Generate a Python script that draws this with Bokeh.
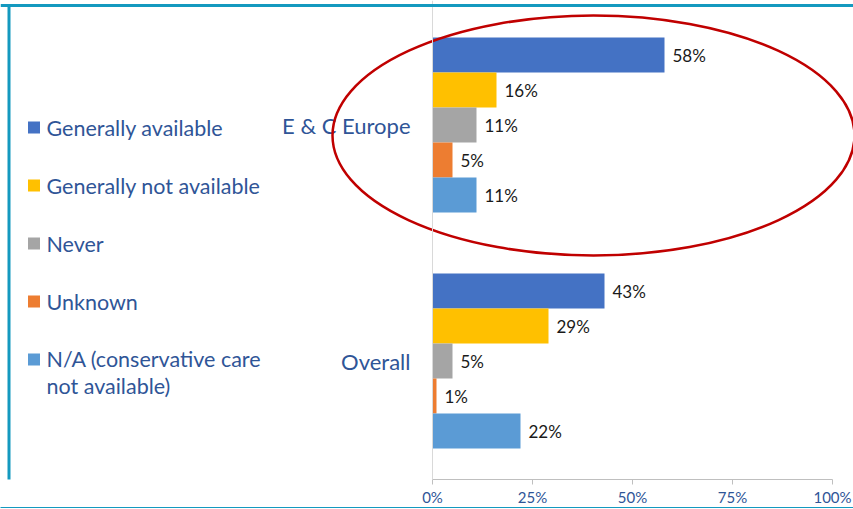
from bokeh.plotting import figure
from bokeh.models import (Range1d, FixedTicker, LinearAxis, Span, ColumnDataSource,
                          BoxAnnotation)
from bokeh.core.properties import value
from bokeh.embed import file_html
from bokeh.resources import INLINE

# ---------------- data ----------------
categories = ["E & C Europe", "Overall"]
series = [
    "Generally available",
    "Generally not available",
    "Never",
    "Unknown",
    "N/A (conservative care\nnot available)",
]
values_ec = [58, 16, 11, 5, 11]
values_overall = [43, 29, 5, 1, 22]
colors = ["#4472C4", "#FFC000", "#A5A5A5", "#ED7D31", "#5B9BD5"]
tick_values = [0, 25, 50, 75, 100]
tick_labels = ["0%", "25%", "50%", "75%", "100%"]

# ---------------- layout helpers (pixel geometry of the page) ----------------
PX_PER_PCT = 4.0          # horizontal scale
ZERO_X = 432              # page x of 0%
CAT_PX = 236              # vertical distance between categories
OVERALL_Y = 360.5         # page y of the lower category
FRAME_W, FRAME_H = 853, 479
PAGE_TOP = 0


def X(px):
    return (px - ZERO_X) / PX_PER_PCT


def Y(py):
    return (OVERALL_Y - py) / CAT_PX


BLUE_TXT = "#2F5597"
FONT = "Lato"

p = figure(
    frame_width=FRAME_W,
    frame_height=FRAME_H,
    x_range=Range1d(X(0), X(FRAME_W)),
    y_range=Range1d(Y(PAGE_TOP + FRAME_H), Y(PAGE_TOP)),
    output_backend="svg",
    toolbar_location=None,
    y_axis_location=None,
    min_border=0,
    outline_line_color=None,
    background_fill_color="white",
    border_fill_color="white",
)
p.xgrid.visible = False
p.ygrid.visible = False

# category positions: top category first
n_cat = len(categories)
cat_pos = {c: n_cat - 1 - i for i, c in enumerate(categories)}
bar_h = 35 / CAT_PX
n_ser = len(series)

all_values = [values_ec, values_overall]

# vertical category-axis line
p.add_layout(Span(location=0, dimension="height", line_color="#D9D9D9", line_width=1))

for ci, cat in enumerate(categories):
    vals = all_values[ci]
    ys = [cat_pos[cat] + ((n_ser - 1) / 2 - si) * bar_h for si in range(n_ser)]
    src = ColumnDataSource(dict(
        y=ys,
        right=vals,
        color=colors,
        lx=[v + 8 / PX_PER_PCT for v in vals],
        label=[f"{v}%" for v in vals],
    ))
    p.hbar(y="y", left=0, right="right", height=bar_h, fill_color="color",
           line_color=None, source=src)
    p.text(x="lx", y="y", text="label", source=src, text_font=value(FONT),
           text_font_size="17px", text_color="#1A1A1A", text_baseline="middle",
           text_align="left")

# category labels
p.text(x=[X(410)] * n_cat, y=[cat_pos[c] for c in categories], text=categories,
       text_font=value(FONT), text_font_size="22px", text_color=BLUE_TXT,
       text_align="right", text_baseline="middle")

# legend (left side)
leg_y = [127 + 58 * i for i in range(n_ser)]
p.scatter(x=[X(33.5)] * n_ser, y=[Y(v) for v in leg_y], marker="square",
          size=12, fill_color=colors, line_color=None)
txt_y = [Y(v + 13 * (s.count("\n"))) for v, s in zip(leg_y, series)]
p.text(x=[X(46)] * n_ser, y=txt_y, text=series, text_font=value(FONT),
       text_font_size="21.5px", text_color=BLUE_TXT, text_align="left",
       text_baseline="middle", text_line_height=1.04)

# highlight ellipse around the E & C Europe group
p.ellipse(x=X(593), y=cat_pos["E & C Europe"] + Y(135) - Y(124.5),
          width=522 / PX_PER_PCT, height=240 / CAT_PX,
          fill_color=None, line_color="#C00000", line_width=2.5)

# x axis
ax = p.xaxis[0]
ax.ticker = FixedTicker(ticks=tick_values)
ax.major_label_overrides = {v: l for v, l in zip(tick_values, tick_labels)}
ax.bounds = (tick_values[0], tick_values[-1])
ax.axis_line_color = "#BFBFBF"
ax.major_tick_line_color = "#BFBFBF"
ax.major_tick_out = 5
ax.major_tick_in = 0
ax.minor_tick_line_color = None
ax.major_label_text_font = FONT
ax.major_label_text_font_size = "15px"
ax.major_label_text_color = BLUE_TXT
ax.major_label_standoff = 3

# frame border (teal)
TEAL = "#1499BF"
bottom_border = LinearAxis(ticker=FixedTicker(ticks=[]), axis_line_color=TEAL,
                           axis_line_width=3, major_tick_line_color=None,
                           minor_tick_line_color=None,
                           major_label_text_font_size="0px")
p.add_layout(bottom_border, "below")
p.add_layout(BoxAnnotation(left=7, right=10, top=4, bottom=508,
                           left_units="canvas", right_units="canvas",
                           top_units="canvas", bottom_units="canvas",
                           fill_color=TEAL, fill_alpha=1.0, line_color=None,
                           level="overlay"))
p.add_layout(Span(location=Y(5), dimension="width",
                  line_color=TEAL, line_width=3))

open("out.html", "w").write(file_html(p, INLINE))
